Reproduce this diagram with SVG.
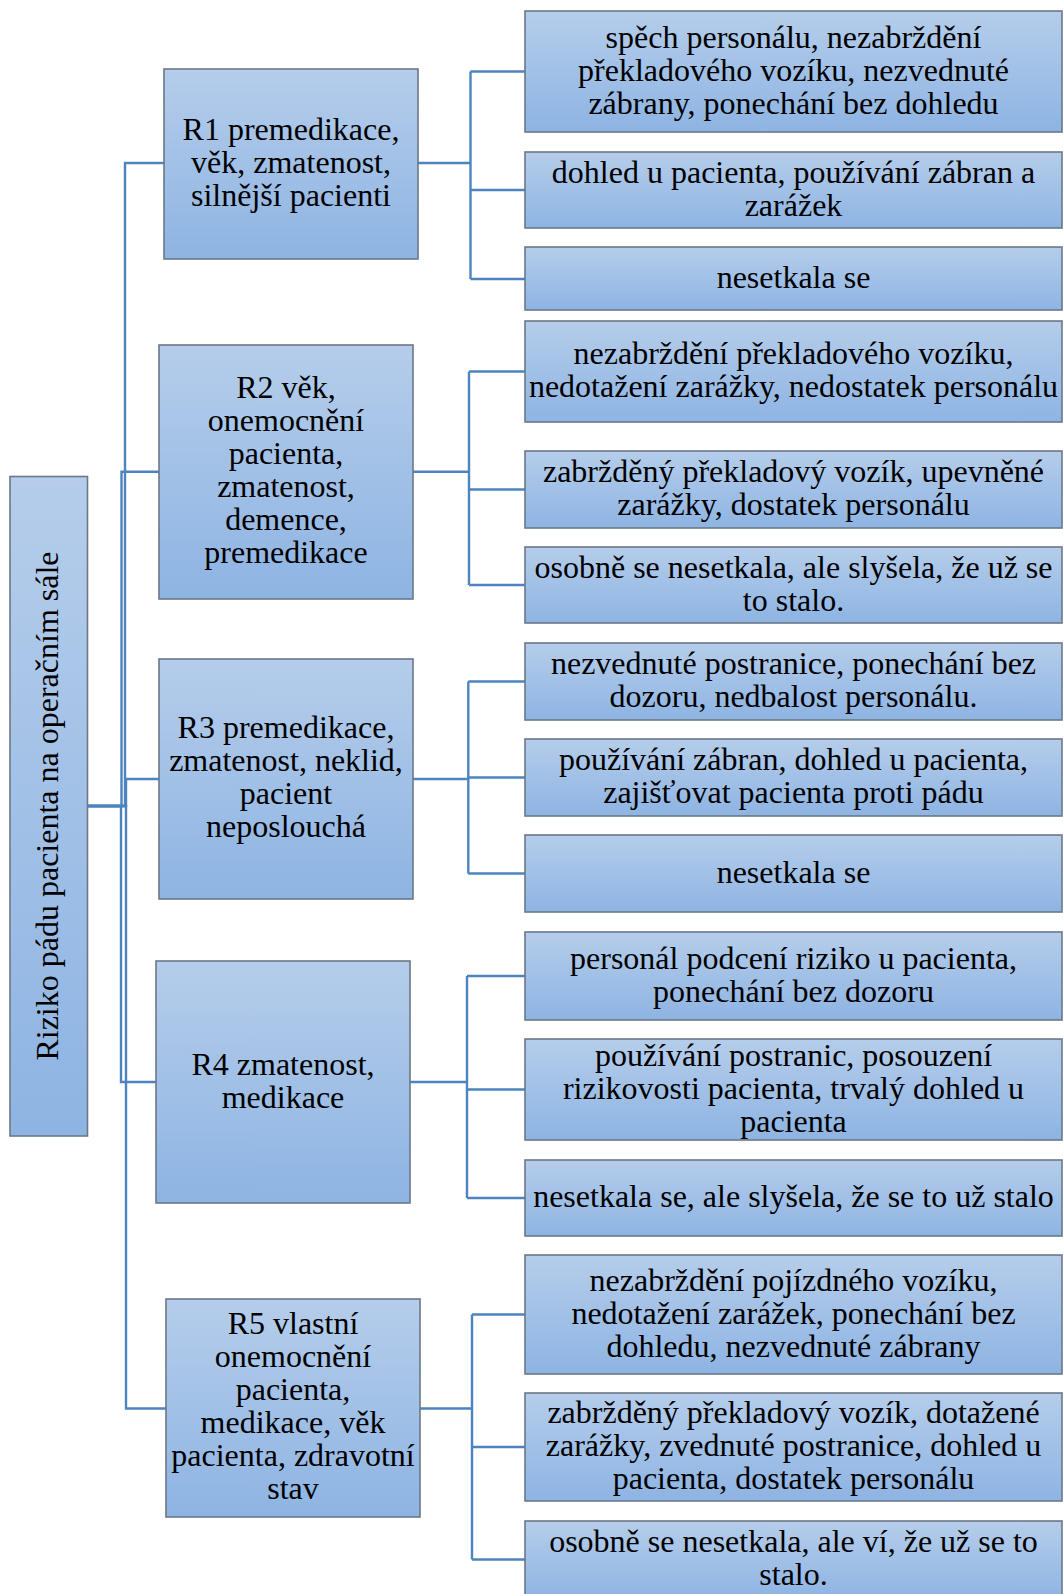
<svg xmlns="http://www.w3.org/2000/svg" width="1063" height="1594" viewBox="0 0 1063 1594">
<defs>
<linearGradient id="g" x1="0" y1="0" x2="0" y2="1">
<stop offset="0" stop-color="#b5cdea"/>
<stop offset="1" stop-color="#8eb4e3"/>
</linearGradient>
</defs>
<style>
.box{fill:url(#g);stroke:#6b7888;stroke-width:1.6}
.t{font-family:"Liberation Serif","Times New Roman",serif;font-size:32px;fill:#000;text-anchor:middle}
.c{fill:none;stroke:#4d84bf;stroke-width:2.4}
</style>
<rect width="1063" height="1594" fill="#ffffff"/>
<g id="connectors">
<path class="c" d="M87.5,806 H125 V163 H164"/>
<path class="c" d="M87.5,806 H121.5 V471.7 H159"/>
<path class="c" d="M87.5,806 H126 V779 H159"/>
<path class="c" d="M87.5,806 H121 V1082 H156"/>
<path class="c" d="M87.5,806 H126 V1408.5 H166"/>
<path class="c" d="M418,163 H470.5 M470.5,71.5 V279 M470.5,71.5 H525 M470.5,190 H525 M470.5,279 H525"/>
<path class="c" d="M413,471.7 H469 M469,371.5 V585 M469,371.5 H525 M469,489.5 H525 M469,585 H525"/>
<path class="c" d="M413,779 H468.3 M468.3,681.5 V873.5 M468.3,681.5 H525 M468.3,777.5 H525 M468.3,873.5 H525"/>
<path class="c" d="M410,1082 H467 M467,976 V1198 M467,976 H525 M467,1089.5 H525 M467,1198 H525"/>
<path class="c" d="M420,1408.5 H472 M472,1314.5 V1559.5 M472,1314.5 H525 M472,1447 H525 M472,1559.5 H525"/>
</g>
<g id="root">
<rect class="box" x="10" y="476.5" width="77.5" height="659.5"/>
<text class="t" transform="translate(58,806) rotate(-90)">Riziko pádu pacienta na operačním sále</text>
</g>
<g id="r1">
<rect class="box" x="164" y="69" width="254" height="190"/>
<text class="t" x="291"><tspan x="291" y="140">R1 premedikace,</tspan><tspan x="291" y="173">věk, zmatenost,</tspan><tspan x="291" y="206">silnější pacienti</tspan></text>
</g>
<g id="r2">
<rect class="box" x="159" y="345" width="254" height="254"/>
<text class="t"><tspan x="286" y="398">R2 věk,</tspan><tspan x="286" y="431">onemocnění</tspan><tspan x="286" y="464">pacienta,</tspan><tspan x="286" y="497">zmatenost,</tspan><tspan x="286" y="530">demence,</tspan><tspan x="286" y="563">premedikace</tspan></text>
</g>
<g id="r3">
<rect class="box" x="159" y="659" width="254" height="240"/>
<text class="t"><tspan x="286" y="738">R3 premedikace,</tspan><tspan x="286" y="771">zmatenost, neklid,</tspan><tspan x="286" y="804">pacient</tspan><tspan x="286" y="837">neposlouchá</tspan></text>
</g>
<g id="r4">
<rect class="box" x="156" y="961" width="254" height="242"/>
<text class="t"><tspan x="283" y="1074.5">R4 zmatenost,</tspan><tspan x="283" y="1107.5">medikace</tspan></text>
</g>
<g id="r5">
<rect class="box" x="166" y="1299" width="254" height="218"/>
<text class="t"><tspan x="293" y="1334">R5 vlastní</tspan><tspan x="293" y="1367">onemocnění</tspan><tspan x="293" y="1400">pacienta,</tspan><tspan x="293" y="1433">medikace, věk</tspan><tspan x="293" y="1466">pacienta, zdravotní</tspan><tspan x="293" y="1499">stav</tspan></text>
</g>
<g id="r1c1">
<rect class="box" x="525" y="11" width="537" height="121"/>
<text class="t"><tspan x="793.5" y="47.5">spěch personálu, nezabrždění</tspan><tspan x="793.5" y="80.5">překladového vozíku, nezvednuté</tspan><tspan x="793.5" y="113.5">zábrany, ponechání bez dohledu</tspan></text>
</g>
<g id="r1c2">
<rect class="box" x="525" y="152" width="537" height="76"/>
<text class="t"><tspan x="793.5" y="182.5">dohled u pacienta, používání zábran a</tspan><tspan x="793.5" y="215.5">zarážek</tspan></text>
</g>
<g id="r1c3">
<rect class="box" x="525" y="247" width="537" height="63"/>
<text class="t" x="793.5" y="288">nesetkala se</text>
</g>
<g id="r2c1">
<rect class="box" x="525" y="321" width="537" height="101"/>
<text class="t"><tspan x="793.5" y="364">nezabrždění překladového vozíku,</tspan><tspan x="793.5" y="397">nedotažení zarážky, nedostatek personálu</tspan></text>
</g>
<g id="r2c2">
<rect class="box" x="525" y="451" width="537" height="77"/>
<text class="t"><tspan x="793.5" y="482">zabržděný překladový vozík, upevněné</tspan><tspan x="793.5" y="515">zarážky, dostatek personálu</tspan></text>
</g>
<g id="r2c3">
<rect class="box" x="525" y="547" width="537" height="76"/>
<text class="t"><tspan x="793.5" y="577.5">osobně se nesetkala, ale slyšela, že už se</tspan><tspan x="793.5" y="610.5">to stalo.</tspan></text>
</g>
<g id="r3c1">
<rect class="box" x="525" y="643" width="537" height="77"/>
<text class="t"><tspan x="793.5" y="674">nezvednuté postranice, ponechání bez</tspan><tspan x="793.5" y="707">dozoru, nedbalost personálu.</tspan></text>
</g>
<g id="r3c2">
<rect class="box" x="525" y="739" width="537" height="77"/>
<text class="t"><tspan x="793.5" y="770">používání zábran, dohled u pacienta,</tspan><tspan x="793.5" y="803">zajišťovat pacienta proti pádu</tspan></text>
</g>
<g id="r3c3">
<rect class="box" x="525" y="835" width="537" height="77"/>
<text class="t" x="793.5" y="883">nesetkala se</text>
</g>
<g id="r4c1">
<rect class="box" x="525" y="932" width="537" height="88"/>
<text class="t"><tspan x="793.5" y="968.5">personál podcení riziko u pacienta,</tspan><tspan x="793.5" y="1001.5">ponechání bez dozoru</tspan></text>
</g>
<g id="r4c2">
<rect class="box" x="525" y="1039" width="537" height="101"/>
<text class="t"><tspan x="793.5" y="1065.5">používání postranic, posouzení</tspan><tspan x="793.5" y="1098.5">rizikovosti pacienta, trvalý dohled u</tspan><tspan x="793.5" y="1131.5">pacienta</tspan></text>
</g>
<g id="r4c3">
<rect class="box" x="525" y="1160" width="537" height="76"/>
<text class="t" x="793.5" y="1207">nesetkala se, ale slyšela, že se to už stalo</text>
</g>
<g id="r5c1">
<rect class="box" x="525" y="1255" width="537" height="119"/>
<text class="t"><tspan x="793.5" y="1290.5">nezabrždění pojízdného vozíku,</tspan><tspan x="793.5" y="1323.5">nedotažení zarážek, ponechání bez</tspan><tspan x="793.5" y="1356.5">dohledu, nezvednuté zábrany</tspan></text>
</g>
<g id="r5c2">
<rect class="box" x="525" y="1393" width="537" height="108"/>
<text class="t"><tspan x="793.5" y="1423">zabržděný překladový vozík, dotažené</tspan><tspan x="793.5" y="1456">zarážky, zvednuté postranice, dohled u</tspan><tspan x="793.5" y="1489">pacienta, dostatek personálu</tspan></text>
</g>
<g id="r5c3">
<rect class="box" x="525" y="1521" width="537" height="78"/>
<text class="t"><tspan x="793.5" y="1551.5">osobně se nesetkala, ale ví, že už se to</tspan><tspan x="793.5" y="1584.5">stalo.</tspan></text>
</g>
</svg>
